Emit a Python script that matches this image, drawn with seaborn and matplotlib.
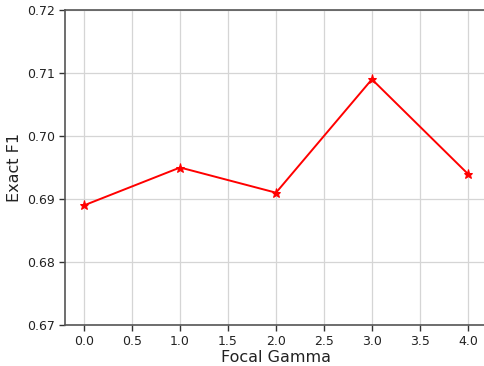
import matplotlib
matplotlib.use("Agg")
import matplotlib.pyplot as plt
import pandas as pd
import seaborn as sns

# values
focal_gamma = [0.0, 1.0, 2.0, 3.0, 4.0]
exact_f1 = [0.689, 0.695, 0.691, 0.709, 0.694]


def main() -> None:
    sns.set_theme(style="whitegrid", rc={
        "grid.color": "#d5d5d5",
        "grid.linewidth": 0.9,
        "axes.edgecolor": "#555555",
        "axes.linewidth": 1.2,
        "xtick.bottom": True,
        "ytick.left": True,
    })
    plt.rcParams["font.family"] = ["DejaVu Sans"]

    df = pd.DataFrame({"gamma": focal_gamma, "f1": exact_f1})

    fig = plt.figure(figsize=(4.84, 3.66), dpi=100)
    ax = fig.add_axes([65 / 484, 1 - 325 / 366, 422 / 484, 315 / 366])
    sns.lineplot(data=df, x="gamma", y="f1", color="#ff0000",
                 marker="*", markersize=6.5, markeredgecolor="#ff0000",
                 linewidth=1.4, ax=ax)

    ax.set_xlim(-0.2, 4.2)
    ax.set_ylim(0.67, 0.72)
    ax.set_xticks([0.0, 0.5, 1.0, 1.5, 2.0, 2.5, 3.0, 3.5, 4.0])
    ax.set_xticklabels([f"{v:.1f}" for v in ax.get_xticks()])
    ax.set_yticks([0.67, 0.68, 0.69, 0.70, 0.71, 0.72])
    ax.set_yticklabels([f"{v:.2f}" for v in ax.get_yticks()])
    ax.tick_params(labelsize=9, length=4, width=1, colors="#333333",
                   labelcolor="#222222", pad=3)
    ax.set_xlabel("Focal Gamma", fontsize=11.5, color="#222222", labelpad=2)
    ax.set_ylabel("Exact F1", fontsize=11.5, color="#222222", labelpad=4)
    ax.spines["right"].set_visible(False)

    fig.savefig("out.png", dpi=100)
    plt.close(fig)


if __name__ == "__main__":
    main()
